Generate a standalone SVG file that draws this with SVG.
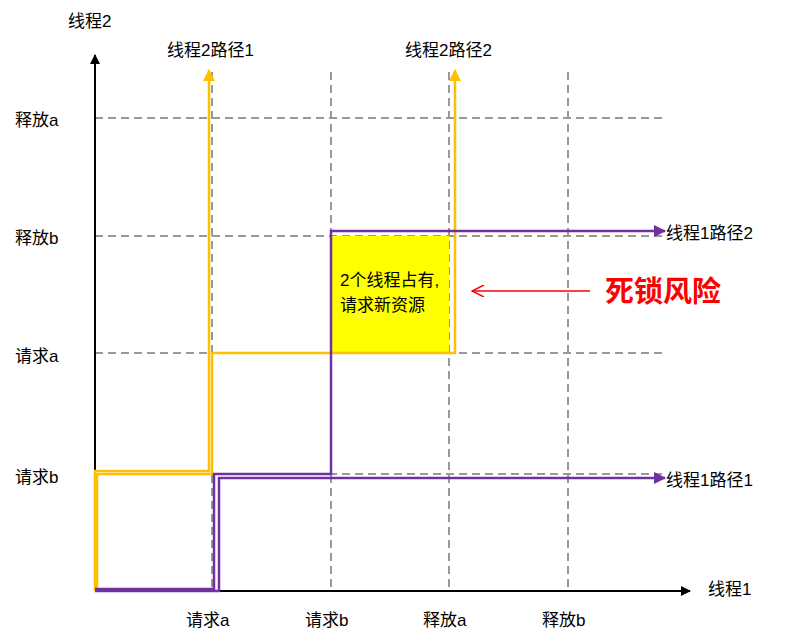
<svg xmlns="http://www.w3.org/2000/svg" width="787" height="640" viewBox="0 0 787 640">
<style>
text{font-family:"Liberation Sans","Noto Sans CJK SC",sans-serif;font-size:17px;fill:#000}
.g{stroke:#999;stroke-width:2;stroke-dasharray:8,5;fill:none}
.o{stroke:#FFC000;stroke-width:2.5;fill:none}
.p{stroke:#7030A0;stroke-width:2.5;fill:none}
</style>
<defs>
<marker id="ak" markerWidth="10" markerHeight="10" refX="9" refY="5" orient="auto" markerUnits="userSpaceOnUse"><path d="M0,0L10,5L0,10Z" fill="#000"/></marker>
<marker id="ao" markerWidth="12" markerHeight="12" refX="11" refY="6" orient="auto" markerUnits="userSpaceOnUse"><path d="M0,0L12,6L0,12Z" fill="#FFC000"/></marker>
<marker id="ap" markerWidth="12" markerHeight="12" refX="11" refY="6" orient="auto" markerUnits="userSpaceOnUse"><path d="M0,0L12,6L0,12Z" fill="#7030A0"/></marker>
<marker id="ar" markerWidth="14" markerHeight="12" refX="13" refY="6" orient="auto" markerUnits="userSpaceOnUse"><path d="M1,0L13,6L1,12" fill="none" stroke="#f00" stroke-width="1.5"/></marker>
</defs>
<g id="grid">
<path class="g" d="M212,72V591M331,72V591M449,72V591M568,72V591M95,118H665M95,236H665M95,353H665M95,474H665"/>
</g>
<g id="deadlock-region"><rect x="331" y="236" width="118" height="117" fill="#FFFF00"/>
<text x="340" y="286">2个线程占有,</text><text x="340" y="311">请求新资源</text></g>
<g id="connectors">
<path d="M95,591V55" stroke="#000" stroke-width="2" marker-end="url(#ak)"/>
<path d="M95,591H690" stroke="#000" stroke-width="2" marker-end="url(#ak)"/>
<path class="o" d="M95,591V471H209V70" marker-end="url(#ao)"/>
<path class="o" d="M97,589V474H212V353H455V70" marker-end="url(#ao)"/>
<path class="p" d="M95,591H219V478H665" marker-end="url(#ap)"/>
<path class="p" d="M95,589H214V474H331V231H665" marker-end="url(#ap)"/>
<path d="M590,291H472" stroke="#f00" stroke-width="1.5" marker-end="url(#ar)"/>
</g>
<g id="labels">
<text x="68" y="27">线程2</text>
<text x="708" y="595">线程1</text>
<text x="167" y="56">线程2路径1</text>
<text x="405" y="56">线程2路径2</text>
<text x="666" y="239">线程1路径2</text>
<text x="666" y="486">线程1路径1</text>
<text x="15" y="126">释放a</text>
<text x="15" y="244">释放b</text>
<text x="15" y="362">请求a</text>
<text x="15" y="483">请求b</text>
<text x="186" y="626">请求a</text>
<text x="305" y="626">请求b</text>
<text x="423" y="626">释放a</text>
<text x="542" y="626">释放b</text>
<text x="605" y="302" style="font-size:29px;fill:#f00;font-weight:bold;font-family:'Noto Sans CJK SC',serif">死锁风险</text>
</g>
</svg>
